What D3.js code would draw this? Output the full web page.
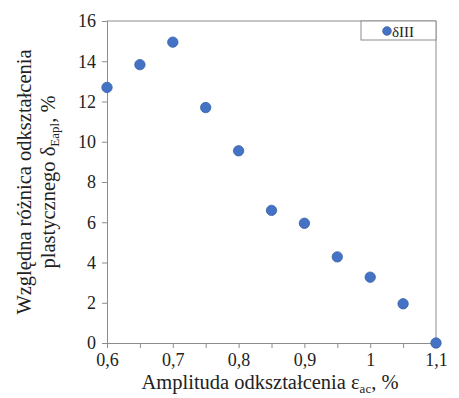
<!DOCTYPE html>
<html>
<head>
<meta charset="utf-8">
<script src="https://cdn.jsdelivr.net/npm/d3@7"></script>
</head>
<body style="margin:0;background:#fff">
<svg id="chart" width="459" height="398" style="display:block"></svg>
<script>
// Strain amplitude (%) and relative plastic strain difference (%)
const amplitude = [0.6, 0.65, 0.7, 0.75, 0.8, 0.85, 0.9, 0.95, 1.0, 1.05, 1.1];
const deltaIII = [12.7, 13.83, 14.95, 11.7, 9.55, 6.59, 5.95, 4.28, 3.27, 1.95, 0.0];
const xTickValues = [0.6, 0.65, 0.7, 0.75, 0.8, 0.85, 0.9, 0.95, 1.0, 1.05, 1.1];
const xTickLabels = ["0,6", "", "0,7", "", "0,8", "", "0,9", "", "1", "", "1,1"];
const yTickValues = [0, 2, 4, 6, 8, 10, 12, 14, 16];
const seriesName = "δIII";

const FONT = "Liberation Serif";
const svg = d3.select("#chart");
const margin = { left: 107, right: 23, top: 21, bottom: 55 };
const W = 459, H = 398;

const x = d3.scaleLinear().domain([0.6, 1.1]).range([margin.left, W - margin.right]);
const y = d3.scaleLinear().domain([0, 16]).range([H - margin.bottom, margin.top]);

const axisColor = "#8c8c8c";

// frame (top and right)
svg.append("path")
  .attr("d", `M${x(0.6)},${y(16)}H${x(1.1)}V${y(0)}`)
  .attr("fill", "none").attr("stroke", axisColor).attr("stroke-width", 1);

// x axis
const xAxis = svg.append("g")
  .attr("transform", `translate(0,${y(0)})`)
  .call(d3.axisBottom(x).tickValues(xTickValues).tickSize(5).tickPadding(5)
    .tickFormat((d, i) => xTickLabels[i]));
xAxis.attr("font-family", FONT).attr("font-size", 18);
xAxis.select(".domain").attr("stroke", axisColor);
xAxis.selectAll(".tick line").attr("stroke", axisColor);
xAxis.selectAll(".tick text").attr("fill", "#222").attr("font-family", FONT);

// y axis
const yAxis = svg.append("g")
  .attr("transform", `translate(${x(0.6)},0)`)
  .call(d3.axisLeft(y).tickValues(yTickValues).tickSize(5).tickPadding(6));
yAxis.attr("font-family", FONT).attr("font-size", 18);
yAxis.select(".domain").attr("stroke", axisColor);
yAxis.selectAll(".tick line").attr("stroke", axisColor);
yAxis.selectAll(".tick text").attr("fill", "#222").attr("font-family", FONT);

// points
svg.append("g").selectAll("circle")
  .data(amplitude.map((a, i) => [a, deltaIII[i]]))
  .join("circle")
  .attr("cx", d => x(d[0]))
  .attr("cy", d => y(d[1]))
  .attr("r", 5.2)
  .attr("fill", "#4472c4")
  .attr("stroke", "#3a62a8")
  .attr("stroke-width", 0.8);

// legend
const lg = svg.append("g");
lg.append("rect")
  .attr("x", 361).attr("y", y(16)).attr("width", x(1.1) - 361).attr("height", 19)
  .attr("fill", "#fff").attr("stroke", axisColor).attr("stroke-width", 1);
lg.append("circle")
  .attr("cx", 387).attr("cy", y(16) + 10).attr("r", 4.3)
  .attr("fill", "#4472c4").attr("stroke", "#3a62a8").attr("stroke-width", 0.8);
lg.append("text")
  .attr("x", 392).attr("y", y(16) + 15.5)
  .attr("font-family", FONT)
  .attr("font-size", 15).attr("fill", "#222")
  .text(seriesName);

// x axis title
const xt = svg.append("text")
  .attr("x", 270).attr("y", 389)
  .attr("font-family", FONT)
  .attr("text-anchor", "middle").attr("font-size", 20.5).attr("fill", "#222");
xt.append("tspan").text("Amplituda odkształcenia ε");
xt.append("tspan").attr("font-size", 13).attr("dy", 4).text("ac");
xt.append("tspan").attr("dy", -4).text(", %");

// y axis title (two lines)
const yt = svg.append("text")
  .attr("transform", `translate(31,${(y(0) + y(16)) / 2}) rotate(-90)`)
  .attr("font-family", FONT)
  .attr("text-anchor", "middle").attr("font-size", 20.5).attr("fill", "#222");
yt.append("tspan").attr("x", 0).attr("y", 0).text("Względna różnica odkształcenia");
const yt2 = yt.append("tspan").attr("x", 0).attr("y", 24);
yt2.append("tspan").text("plastycznego δ");
yt2.append("tspan").attr("font-size", 13).attr("dy", 4).text("Eapl");
yt2.append("tspan").attr("dy", -4).text(", %");
</script>
</body>
</html>
